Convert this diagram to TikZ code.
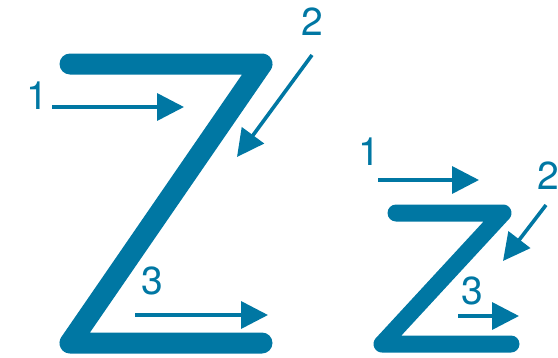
\documentclass[tikz,border=0pt]{standalone}
\usepackage{fontspec}
\setmainfont{TeX Gyre Heros}
\usepackage{tikz}
\usetikzlibrary{arrows.meta}
\usepackage{xcolor}
\definecolor{zblue}{HTML}{0077A3}
\tikzset{
  % thick letter stroke
  zstroke/.style={draw=zblue, line width=#1, line cap=round, line join=round},
  % direction arrow
  pointer/.style={draw=zblue, line width=3.6pt,
                  -{Triangle[length=27pt, width=27pt]}},
  % stroke number
  numlabel/.style={text=zblue, inner sep=0pt,
                   font=\fontsize{39}{39}\selectfont},
}

\begin{document}
\begin{tikzpicture}[x=1pt, y=-1pt]
  \useasboundingbox (0,0) rectangle (558,357);
  % large Z
  \draw[zstroke=21pt] (70,64) -- (262,64) -- (70,343) -- (262,343);
  % small z
  \draw[zstroke=17pt] (396,213) -- (503,213) -- (382,344) -- (511,344);

  % arrows on the large Z
  \coordinate (bigAs) at (52,107);  \coordinate (bigAe) at (184,107);
  \coordinate (bigBs) at (312,55);  \coordinate (bigBe) at (237,157);
  \coordinate (bigCs) at (135,315); \coordinate (bigCe) at (268,315);
  \draw[pointer] (bigAs) -- (bigAe);
  \draw[pointer] (bigBs) -- (bigBe);
  \draw[pointer] (bigCs) -- (bigCe);
  \node[numlabel] (bigone)   at (37,96)   {1};
  \node[numlabel] (bigtwo)   at (312,22)  {2};
  \node[numlabel] (bigthree) at (152,281) {3};

  % arrows on the small z
  \coordinate (smlAs) at (378,180); \coordinate (smlAe) at (479,180);
  \coordinate (smlBs) at (546,205); \coordinate (smlBe) at (503,261);
  \coordinate (smlCs) at (458,316); \coordinate (smlCe) at (519,316);
  \draw[pointer] (smlAs) -- (smlAe);
  \draw[pointer] (smlBs) -- (smlBe);
  \draw[pointer] (smlCs) -- (smlCe);
  \node[numlabel] (smlone)   at (369,152) {1};
  \node[numlabel] (smltwo)   at (548,176) {2};
  \node[numlabel] (smlthree) at (472,291) {3};
\end{tikzpicture}
\end{document}
